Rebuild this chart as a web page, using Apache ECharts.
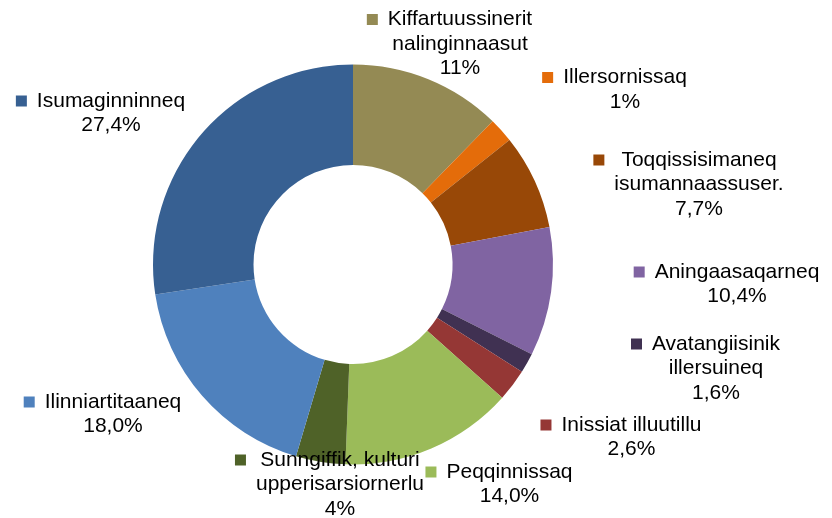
<!DOCTYPE html>
<html>
<head>
<meta charset="utf-8">
<script src="https://cdn.jsdelivr.net/npm/echarts@6/dist/echarts.min.js"></script>
<style>
  html, body { margin: 0; padding: 0; background: #fff; }
  #chart { width: 832px; height: 518px; }
</style>
</head>
<body>
<div id="chart"></div>
<script>
// ---- data ----
const categories = [
  'Kiffartuussinerit\nnalinginnaasut',
  'Illersornissaq',
  'Toqqissisimaneq\nisumannaassuser.',
  'Aningaasaqarneq',
  'Avatangiisinik\nillersuineq',
  'Inissiat illuutillu',
  'Peqqinnissaq',
  'Sunngiffik, kulturi\nupperisarsiornerlu',
  'Ilinniartitaaneq',
  'Isumaginninneq'
];
// slice sizes (percent)
const values = [12.3, 2.0, 7.7, 10.4, 1.6, 2.6, 14.0, 4.0, 18.0, 27.4];
// percentage texts as printed on the chart
const percentLabels = ['11%', '1%', '7,7%', '10,4%', '1,6%', '2,6%', '14,0%', '4%', '18,0%', '27,4%'];

// ---- styles / layout ----
const colors = ['#948A54', '#E46C0A', '#984807', '#8064A2', '#403152',
                '#953735', '#9BBB59', '#4F6228', '#4F81BD', '#376092'];
// [text centre x, first line middle y] for each label block
const labelPos = [
  [460, 19.5], [625, 77.5], [699, 160], [737, 272], [716, 344],
  [631.5, 425], [509.5, 472], [340, 460], [113, 402], [111, 101]
];
const LH = 24.5;
const SQ = 11, GAP = 10;

const rich = {
  g: { width: GAP, height: SQ, align: 'left', lineHeight: LH },
  sp: { width: SQ + GAP, height: SQ, align: 'left', lineHeight: LH },
  t: { align: 'center', lineHeight: LH, fontSize: 21, fontFamily: '"Liberation Sans", Arial, sans-serif', color: '#000' }
};
colors.forEach((c, i) => {
  rich['sq' + i] = { width: SQ, height: SQ, backgroundColor: c, align: 'left', lineHeight: LH };
});

const chart = echarts.init(document.getElementById('chart'), null, { renderer: 'canvas' });
chart.setOption({
  animation: false,
  backgroundColor: '#ffffff',
  series: [{
    type: 'pie',
    center: [353, 264.5],
    radius: [99.5, 200],
    startAngle: 90,
    clockwise: true,
    avoidLabelOverlap: false,
    silent: true,
    emphasis: { disabled: true },
    itemStyle: { borderWidth: 0 },
    labelLine: { show: false },
    label: {
      show: true,
      position: 'outside',
      align: 'center',
      fontSize: 21,
      lineHeight: LH,
      fontFamily: '"Liberation Sans", Arial, sans-serif',
      color: '#000',
      rich: rich,
      formatter: function (p) {
        const i = p.dataIndex;
        const lines = categories[i].split('\n').concat([percentLabels[i]]);
        return lines.map(function (l, k) {
          return (k === 0 ? '{sq' + i + '|}{g|}' : '{sp|}') + '{t|' + l + '}';
        }).join('\n');
      }
    },
    labelLayout: function (params) {
      const p = labelPos[params.dataIndex];
      return {
        x: p[0] - (SQ + GAP) / 2,
        y: p[1] - LH / 2,
        align: 'center',
        verticalAlign: 'top'
      };
    },
    data: categories.map(function (c, i) {
      return { name: c, value: values[i], itemStyle: { color: colors[i] } };
    })
  }]
});
</script>
</body>
</html>
